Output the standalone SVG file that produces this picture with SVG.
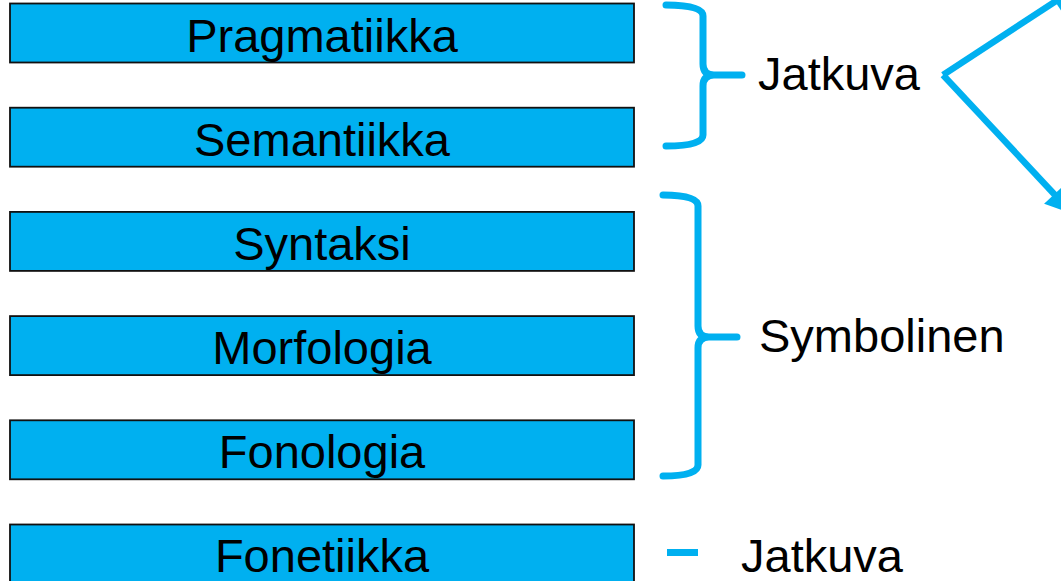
<svg xmlns="http://www.w3.org/2000/svg" width="1061" height="581" viewBox="0 0 1061 581">
  <style>
    .box { fill: #00B0F0; stroke: #111; stroke-width: 1.8; }
    .label { font-family: "Liberation Sans", Arial, sans-serif; font-size: 47px; fill: #000; }
    .mid { text-anchor: middle; }
    .brace { fill: none; stroke: #00B0F0; stroke-width: 7; stroke-linecap: round; stroke-linejoin: round; }
    .arrow { fill: none; stroke: #00B0F0; stroke-width: 6.5; }
  </style>
  <defs>
    <marker id="head" markerUnits="userSpaceOnUse" markerWidth="30" markerHeight="30" viewBox="0 -14 26 28" refX="1" refY="0" orient="auto">
      <path d="M0,-13 L25,0 L0,13 z" fill="#00B0F0"/>
    </marker>
  </defs>

  <!-- language levels -->
  <g id="pragmatiikka">
    <rect class="box" x="10" y="3.5" width="624" height="59"/>
    <text class="label mid" x="322" y="52">Pragmatiikka</text>
  </g>
  <g id="semantiikka">
    <rect class="box" x="10" y="107.7" width="624" height="59"/>
    <text class="label mid" x="322" y="156">Semantiikka</text>
  </g>
  <g id="syntaksi">
    <rect class="box" x="10" y="211.9" width="624" height="59"/>
    <text class="label mid" x="322" y="260">Syntaksi</text>
  </g>
  <g id="morfologia">
    <rect class="box" x="10" y="316.1" width="624" height="59"/>
    <text class="label mid" x="322" y="364">Morfologia</text>
  </g>
  <g id="fonologia">
    <rect class="box" x="10" y="420.3" width="624" height="59"/>
    <text class="label mid" x="322" y="468">Fonologia</text>
  </g>
  <g id="fonetiikka">
    <rect class="box" x="10" y="524.5" width="624" height="59"/>
    <text class="label mid" x="322" y="572">Fonetiikka</text>
  </g>

  <!-- group labels -->
  <g id="jatkuva-top">
    <text class="label" x="758" y="90">Jatkuva</text>
  </g>
  <g id="symbolinen">
    <text class="label" x="759" y="352">Symbolinen</text>
  </g>
  <g id="jatkuva-bottom">
    <text class="label" x="741" y="572">Jatkuva</text>
  </g>

  <!-- braces, dash and arrows -->
  <g id="connectors">
    <path class="brace" d="M666,5 Q703,5 703,16 L703,64 Q703,75 714,75 L742,75 M714,75 Q703,75 703,86 L703,135 Q703,146 666,146"/>
    <path class="brace" d="M663,195 Q698,195 698,206 L698,326 Q698,337 709,337 L737,337 M709,337 Q698,337 698,348 L698,465 Q698,476 663,476"/>
    <rect x="667" y="549" width="31" height="7" fill="#00B0F0"/>
    <path class="arrow" d="M943,75 L1056,1" marker-end="url(#head)"/>
    <path class="arrow" d="M943,75 L1055,195" marker-end="url(#head)"/>
  </g>
</svg>
